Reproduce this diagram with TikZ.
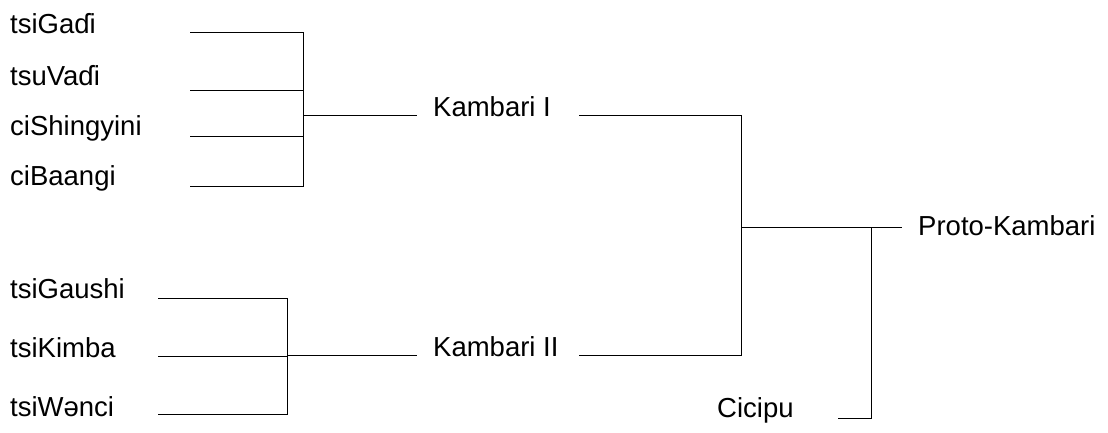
\documentclass[tikz,border=0pt]{standalone}
\usepackage{fontspec}
\setmainfont{Liberation Sans}
\begin{document}
\begin{tikzpicture}[x=1pt,y=-1pt,
  lbl/.style={anchor=base west,inner sep=0pt,font=\fontsize{27.5}{32}\selectfont},
  conn/.style={line width=1pt,black}]
\useasboundingbox (0,0) rectangle (1108,432);
% labels
\node[lbl] (gadi) at (10,33) {tsiGaɗi};
\node[lbl] (vadi) at (10,85) {tsuVaɗi};
\node[lbl] (shing) at (10,135) {ciShingyini};
\node[lbl] (baangi) at (10,185) {ciBaangi};
\node[lbl] (gaushi) at (10,298) {tsiGaushi};
\node[lbl] (kimba) at (10,357) {tsiKimba};
\node[lbl] (wenci) at (10,416) {tsiWənci};
\node[lbl] (k1) at (433,116) {Kambari I};
\node[lbl] (k2) at (433,356) {Kambari II};
\node[lbl] (cicipu) at (717,417) {Cicipu};
\node[lbl] (proto) at (918,235) {Proto-Kambari};
% coordinates
\coordinate (a1) at (190,32);
\coordinate (a2) at (190,90);
\coordinate (a3) at (190,136);
\coordinate (a4) at (190,186);
\coordinate (ja) at (303,115);
\coordinate (k1in) at (417,115);
\coordinate (k1out) at (579,115);
\coordinate (b1) at (158,298);
\coordinate (b2) at (158,356);
\coordinate (b3) at (158,414);
\coordinate (jb) at (287,355);
\coordinate (k2in) at (417,355);
\coordinate (k2out) at (579,355);
\coordinate (jk) at (741,227);
\coordinate (pin) at (902,227);
\coordinate (jp) at (871,227);
\coordinate (cout) at (838,418);
% top group
\draw[conn] (a1) -| (ja);
\draw[conn] (a2) -| (ja);
\draw[conn] (a3) -| (ja);
\draw[conn] (a4) -| (ja);
\draw[conn] (ja) -- (k1in);
% bottom group
\draw[conn] (b1) -| (jb);
\draw[conn] (b2) -- (jb |- b2);
\draw[conn] (b3) -| (jb);
\draw[conn] (jb) -- (k2in);
% Kambari
\draw[conn] (k1out) -| (jk);
\draw[conn] (k2out) -| (jk);
\draw[conn] (jk) -- (pin);
\draw[conn] (cout) -| (jp);
\end{tikzpicture}
\end{document}
